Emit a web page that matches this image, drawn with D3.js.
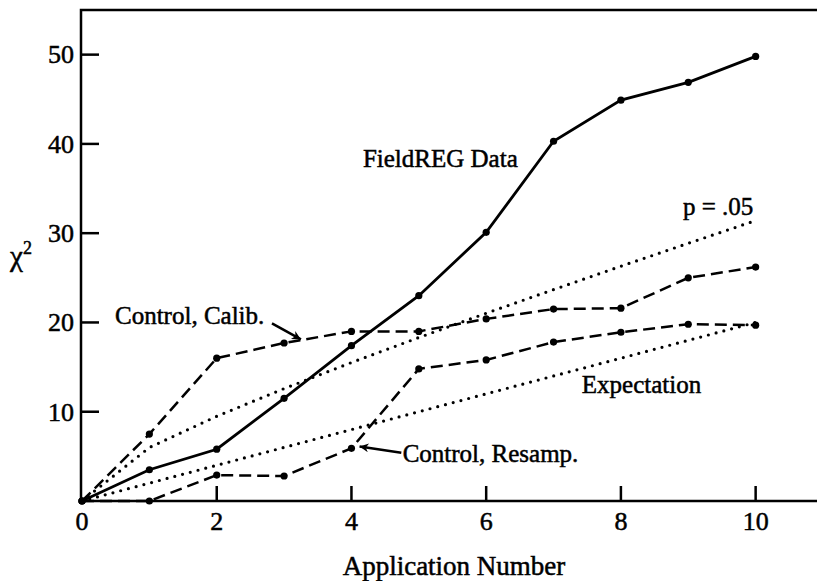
<!DOCTYPE html>
<html>
<head>
<meta charset="utf-8">
<script src="https://cdn.jsdelivr.net/npm/d3@7"></script>
<style>
  body { margin: 0; background: #fff; }
</style>
</head>
<body>
<script>
// values
const applications = [0, 1, 2, 3, 4, 5, 6, 7, 8, 9, 10];
const fieldReg = [0, 3.5, 5.8, 11.5, 17.4, 23.0, 30.1, 40.3, 44.9, 46.9, 49.8];
const controlCalib = [0, 7.5, 16.0, 17.7, 19.0, 19.0, 20.4, 21.5, 21.6, 25.0, 26.2];
const controlResamp = [0, 0, 2.9, 2.8, 5.9, 14.8, 15.8, 17.8, 18.9, 19.8, 19.7];
const pCritical = [0, 5.99, 9.49, 12.59, 15.51, 18.31, 21.03, 23.68, 26.30, 28.87, 31.41];
const expectation = [0, 2, 4, 6, 8, 10, 12, 14, 16, 18, 20];

const xTicks = [0, 2, 4, 6, 8, 10];
const yTicks = [10, 20, 30, 40, 50];

const labels = [
  { text: "FieldREG Data", x: 4.17, y: 37.4 },
  { text: "p = .05", x: 8.92, y: 32.0 },
  { text: "Control, Calib.", x: 0.49, y: 19.8 },
  { text: "Control, Resamp.", x: 4.76, y: 4.4 },
  { text: "Expectation", x: 7.42, y: 12.1 }
];
const arrows = [
  { from: [2.82, 19.9], to: [3.25, 18.1] },
  { from: [4.74, 5.4], to: [4.12, 6.1] }
];

const FONT = "Liberation Serif";

const svg = d3.select("body").append("svg")
    .attr("width", 817)
    .attr("height", 581);

const x = d3.scaleLinear().domain([0, 11]).range([82, 823]);
const y = d3.scaleLinear().domain([0, 55]).range([501, 10]);

// frame (right edge falls outside the picture)
svg.append("rect")
    .attr("x", x(0) - 1)
    .attr("y", y(55))
    .attr("width", x(11) - x(0))
    .attr("height", y(0) - y(55))
    .attr("fill", "none")
    .attr("stroke", "#000")
    .attr("stroke-width", 2.5);

// y axis ticks and labels
const yAxis = svg.append("g");
yAxis.selectAll("line").data(yTicks).enter().append("line")
    .attr("x1", x(0) - 1).attr("x2", x(0) + 17)
    .attr("y1", d => y(d)).attr("y2", d => y(d))
    .attr("stroke", "#000").attr("stroke-width", 2.5);
yAxis.selectAll("text").data(yTicks).enter().append("text")
    .attr("x", x(0) - 8)
    .attr("y", d => y(d))
    .attr("dy", "0.34em")
    .attr("text-anchor", "end")
    .attr("font-size", 26)
    .style("font-family", FONT)
    .attr("stroke", "#000").attr("stroke-width", 0.5)
    .text(d => d);

// x axis ticks and labels
const xAxis = svg.append("g");
xAxis.selectAll("line").data(xTicks.filter(d => d > 0)).enter().append("line")
    .attr("x1", d => x(d)).attr("x2", d => x(d))
    .attr("y1", y(0)).attr("y2", y(0) - 15)
    .attr("stroke", "#000").attr("stroke-width", 2.5);
xAxis.selectAll("text").data(xTicks).enter().append("text")
    .attr("x", d => x(d))
    .attr("y", y(0) + 29)
    .attr("text-anchor", "middle")
    .attr("font-size", 26)
    .style("font-family", FONT)
    .attr("stroke", "#000").attr("stroke-width", 0.5)
    .text(d => d);

svg.append("text")
    .attr("x", 454)
    .attr("y", 575)
    .attr("text-anchor", "middle")
    .attr("font-size", 27)
    .style("font-family", FONT)
    .attr("stroke", "#000").attr("stroke-width", 0.5)
    .text("Application Number");

const yTitle = svg.append("text")
    .attr("x", 10)
    .attr("y", 266)
    .attr("font-size", 29)
    .style("font-family", FONT)
    .attr("stroke", "#000").attr("stroke-width", 0.5);
yTitle.append("tspan").text("χ");
yTitle.append("tspan").attr("font-size", 18).attr("dy", -12).text("2");

const line = d3.line()
    .x((d, i) => x(applications[i]))
    .y(d => y(d));

const series = [
  { values: pCritical, dash: "0,8", width: 3.2, cap: "round", dots: false },
  { values: expectation, dash: "0,8", width: 3.2, cap: "round", dots: false },
  { values: controlCalib, dash: "12,6", width: 2.5, cap: "butt", dots: true },
  { values: controlResamp, dash: "12,6", width: 2.5, cap: "butt", dots: true },
  { values: fieldReg, dash: null, width: 2.8, cap: "butt", dots: true }
];

series.forEach(s => {
  svg.append("path")
      .datum(s.values)
      .attr("fill", "none")
      .attr("stroke", "#000")
      .attr("stroke-width", s.width)
      .attr("stroke-linecap", s.cap)
      .attr("stroke-dasharray", s.dash)
      .attr("d", line);
  if (s.dots) {
    svg.append("g").selectAll("circle")
        .data(s.values)
        .enter().append("circle")
        .attr("cx", (d, i) => x(applications[i]))
        .attr("cy", d => y(d))
        .attr("r", 3.6)
        .attr("fill", "#000");
  }
});

// annotation labels
svg.append("g").selectAll("text")
    .data(labels)
    .enter().append("text")
    .attr("x", d => x(d.x))
    .attr("y", d => y(d.y))
    .attr("font-size", 25)
    .style("font-family", FONT)
    .attr("stroke", "#000").attr("stroke-width", 0.5)
    .text(d => d.text);

// arrows
svg.append("defs").append("marker")
    .attr("id", "head")
    .attr("viewBox", "0 0 10 10")
    .attr("refX", 10).attr("refY", 5)
    .attr("markerWidth", 14).attr("markerHeight", 9)
    .attr("markerUnits", "userSpaceOnUse")
    .attr("orient", "auto")
    .append("path")
    .attr("d", "M0,0 L10,5 L0,10 L3,5 Z")
    .attr("fill", "#000");

svg.append("g").selectAll("line")
    .data(arrows)
    .enter().append("line")
    .attr("x1", d => x(d.from[0])).attr("y1", d => y(d.from[1]))
    .attr("x2", d => x(d.to[0])).attr("y2", d => y(d.to[1]))
    .attr("stroke", "#000")
    .attr("stroke-width", 2.5)
    .attr("marker-end", "url(#head)");
</script>
</body>
</html>
